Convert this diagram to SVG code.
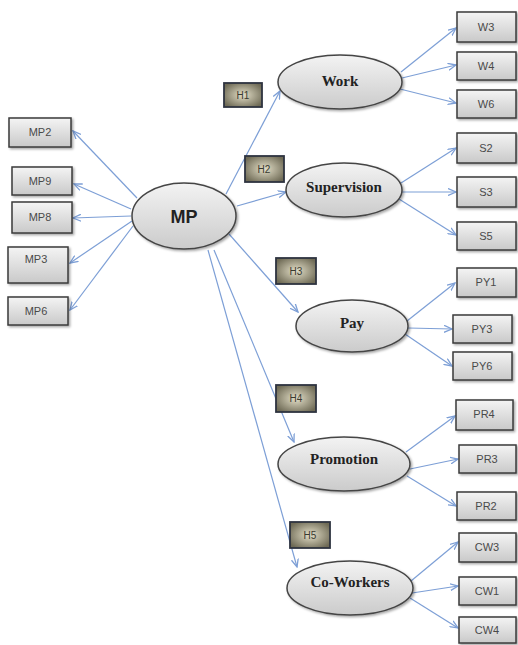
<svg xmlns="http://www.w3.org/2000/svg" width="518" height="645" viewBox="0 0 518 645">
<defs>
<linearGradient id="gBox" x1="0" y1="0" x2="0" y2="1">
<stop offset="0" stop-color="#f4f4f4"/><stop offset="1" stop-color="#c9c9c9"/>
</linearGradient>
<radialGradient id="gH" cx="0.5" cy="0.5" r="0.6">
<stop offset="0" stop-color="#e4dfc8"/><stop offset="1" stop-color="#6e6a55"/>
</radialGradient>
<linearGradient id="gEl" x1="0" y1="0" x2="0" y2="1">
<stop offset="0" stop-color="#f3f3f3"/><stop offset="1" stop-color="#cbcbcb"/>
</linearGradient>
<marker id="arr" markerWidth="9" markerHeight="8" refX="8" refY="4" orient="auto" markerUnits="userSpaceOnUse">
<path d="M0,0.5 L8,4 L0,7.5" fill="none" stroke="#7d9fd6" stroke-width="1.3"/>
</marker>
<filter id="sh" x="-20%" y="-20%" width="150%" height="150%">
<feDropShadow dx="1.5" dy="1.5" stdDeviation="1" flood-color="#000" flood-opacity="0.35"/>
</filter>
</defs>
<style>
.box{fill:url(#gBox);stroke:#3a3a3a;stroke-width:1.5;filter:url(#sh)}
.hb{fill:url(#gH);stroke:#2e3340;stroke-width:1.8}
.el{fill:url(#gEl);stroke:#454545;stroke-width:1.5;filter:url(#sh)}
.bt{font-family:"Liberation Sans",Arial,sans-serif;font-size:11px;fill:#4a4a4a;text-anchor:middle}
.ht{font-family:"Liberation Sans",Arial,sans-serif;font-size:10px;fill:#3a3a30;text-anchor:middle}
.et{font-family:"Liberation Serif","Times New Roman",serif;font-size:15px;font-weight:bold;fill:#222;text-anchor:middle}
.mt{font-family:"Liberation Sans",Arial,sans-serif;font-size:18px;font-weight:bold;fill:#222;text-anchor:middle}
.cn line{stroke:#7d9fd6;stroke-width:1.2;marker-end:url(#arr)}
</style>
<g id="connectors" class="cn">
<line x1="137" y1="198" x2="73" y2="131"/>
<line x1="131" y1="209" x2="74" y2="184"/>
<line x1="131" y1="216" x2="73" y2="218"/>
<line x1="132" y1="221" x2="70" y2="263"/>
<line x1="133" y1="226" x2="70" y2="310"/>
<line x1="226" y1="194" x2="280" y2="91"/>
<line x1="237" y1="206" x2="286" y2="192"/>
<line x1="229" y1="234" x2="298" y2="312"/>
<line x1="214" y1="250" x2="294" y2="442"/>
<line x1="208" y1="250" x2="297" y2="567"/>
<line x1="401" y1="72" x2="456" y2="28"/>
<line x1="402" y1="78" x2="456" y2="65"/>
<line x1="400" y1="89" x2="456" y2="103"/>
<line x1="401" y1="183" x2="456" y2="148"/>
<line x1="402" y1="192" x2="456" y2="192"/>
<line x1="399" y1="199" x2="456" y2="235"/>
<line x1="407" y1="321" x2="455" y2="283"/>
<line x1="408" y1="328" x2="452" y2="329"/>
<line x1="405" y1="334" x2="452" y2="366"/>
<line x1="406" y1="452" x2="455" y2="416"/>
<line x1="410" y1="469" x2="458" y2="459"/>
<line x1="407" y1="476" x2="456" y2="506"/>
<line x1="411" y1="581" x2="458" y2="542"/>
<line x1="412" y1="593" x2="458" y2="586"/>
<line x1="410" y1="598" x2="458" y2="628"/>
</g>
<g id="MP"><ellipse class="el" cx="184" cy="216" rx="52" ry="33"/><text class="mt" x="184" y="223">MP</text></g>
<g id="MP2"><rect class="box" x="9" y="118" width="62" height="29"/><text class="bt" x="40" y="136">MP2</text></g>
<g id="MP9"><rect class="box" x="12" y="167" width="60" height="28"/><text class="bt" x="40" y="185">MP9</text></g>
<g id="MP8"><rect class="box" x="12" y="202" width="60" height="31"/><text class="bt" x="40" y="221">MP8</text></g>
<g id="MP3"><rect class="box" x="8" y="247" width="60" height="36"/><text class="bt" x="36" y="263">MP3</text></g>
<g id="MP6"><rect class="box" x="8" y="297" width="60" height="28"/><text class="bt" x="36" y="315">MP6</text></g>
<g id="Work"><ellipse class="el" cx="340" cy="82" rx="62" ry="27"/><text class="et" x="340" y="86">Work</text></g>
<g id="Supervision"><ellipse class="el" cx="344" cy="190" rx="58" ry="27"/><text class="et" x="344" y="192">Supervision</text></g>
<g id="Pay"><ellipse class="el" cx="352" cy="326" rx="56" ry="26"/><text class="et" x="352" y="328">Pay</text></g>
<g id="Promotion"><ellipse class="el" cx="344" cy="464" rx="66" ry="27"/><text class="et" x="344" y="464">Promotion</text></g>
<g id="CoWorkers"><ellipse class="el" cx="350" cy="588" rx="63" ry="27"/><text class="et" x="350" y="587">Co-Workers</text></g>
<g id="H1"><rect class="hb" x="224" y="83" width="38" height="24"/><text class="ht" x="243" y="99">H1</text></g>
<g id="H2"><rect class="hb" x="245" y="156" width="39" height="26"/><text class="ht" x="264" y="173">H2</text></g>
<g id="H3"><rect class="hb" x="276" y="258" width="40" height="26"/><text class="ht" x="296" y="275">H3</text></g>
<g id="H4"><rect class="hb" x="276" y="385" width="40" height="27"/><text class="ht" x="296" y="402">H4</text></g>
<g id="H5"><rect class="hb" x="290" y="522" width="40" height="26"/><text class="ht" x="310" y="539">H5</text></g>
<g id="W3"><rect class="box" x="457" y="12" width="59" height="30"/><text class="bt" x="486" y="31">W3</text></g>
<g id="W4"><rect class="box" x="457" y="52" width="59" height="28"/><text class="bt" x="486" y="70">W4</text></g>
<g id="W6"><rect class="box" x="457" y="90" width="59" height="28"/><text class="bt" x="486" y="108">W6</text></g>
<g id="S2"><rect class="box" x="457" y="133" width="59" height="30"/><text class="bt" x="486" y="152">S2</text></g>
<g id="S3"><rect class="box" x="457" y="177" width="59" height="30"/><text class="bt" x="486" y="196">S3</text></g>
<g id="S5"><rect class="box" x="457" y="222" width="59" height="28"/><text class="bt" x="486" y="240">S5</text></g>
<g id="PY1"><rect class="box" x="457" y="268" width="59" height="29"/><text class="bt" x="486" y="286">PY1</text></g>
<g id="PY3"><rect class="box" x="453" y="315" width="59" height="28"/><text class="bt" x="482" y="333">PY3</text></g>
<g id="PY6"><rect class="box" x="453" y="352" width="59" height="28"/><text class="bt" x="482" y="370">PY6</text></g>
<g id="PR4"><rect class="box" x="456" y="400" width="57" height="30"/><text class="bt" x="484" y="418">PR4</text></g>
<g id="PR3"><rect class="box" x="459" y="445" width="57" height="28"/><text class="bt" x="487" y="463">PR3</text></g>
<g id="PR2"><rect class="box" x="457" y="492" width="59" height="28"/><text class="bt" x="486" y="510">PR2</text></g>
<g id="CW3"><rect class="box" x="459" y="533" width="57" height="29"/><text class="bt" x="487" y="551">CW3</text></g>
<g id="CW1"><rect class="box" x="459" y="577" width="57" height="28"/><text class="bt" x="487" y="595">CW1</text></g>
<g id="CW4"><rect class="box" x="459" y="617" width="57" height="26"/><text class="bt" x="487" y="634">CW4</text></g>
</svg>
